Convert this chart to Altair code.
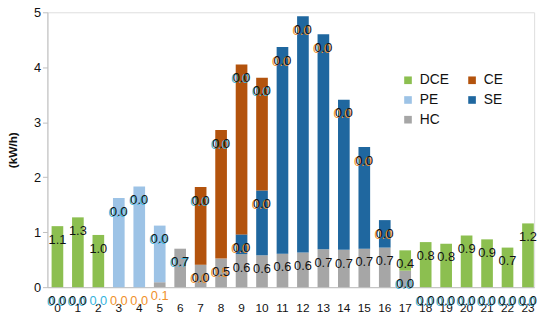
import altair as alt
import pandas as pd

# ---------------- data ----------------
hours = list(range(24))
stack_order = ["HC", "DCE", "PE", "SE", "CE"]          # bottom -> top
legend_order = ["DCE", "PE", "HC", "CE", "SE"]          # legend fills column by column
legend_colors = ["#8cbf50", "#9dc3e6", "#a6a6a6", "#b3530d", "#1f679f"]

HC  = [0, 0, 0, 0, 0, 0.09, 0.70, 0.41, 0.52, 0.60, 0.58, 0.61, 0.63, 0.69, 0.68, 0.70, 0.72, 0.30, 0, 0, 0, 0, 0, 0]
DCE = [1.11, 1.27, 0.95, 0, 0, 0, 0, 0, 0, 0, 0, 0, 0, 0, 0, 0, 0, 0.37, 0.82, 0.79, 0.94, 0.87, 0.72, 1.16]
PE  = [0, 0, 0, 1.62, 1.83, 1.03, 0, 0, 0, 0, 0, 0, 0, 0, 0, 0, 0, 0, 0, 0, 0, 0, 0, 0]
SE  = [0, 0, 0, 0, 0, 0, 0, 0, 0, 0.36, 1.18, 3.76, 4.30, 3.91, 2.73, 1.85, 0.50, 0, 0, 0, 0, 0, 0, 0]
CE  = [0, 0, 0, 0, 0, 0, 0, 1.41, 2.34, 3.09, 2.05, 0, 0, 0, 0, 0, 0, 0, 0, 0, 0, 0, 0, 0]

# data labels as shown in the chart ("" = no label); k=black, c=cyan, o=orange
HC_LBL   = ["0.0", "0.0", "0.0", "0.0", "0.0", "0.1", "0.7", "0.0", "0.5", "0.6", "0.6", "0.6",
            "0.6", "0.7", "0.7", "0.7", "0.7", "0.0", "0.0", "0.0", "0.0", "0.0", "0.0", "0.0"]
HC_COL   = ["k", "k", "c", "o", "o", "o", "k", "k", "k", "k", "k", "k",
            "k", "k", "k", "k", "k", "k", "k", "k", "k", "k", "k", "k"]
HC_HALO  = ["c", "c", "", "", "", "", "c", "o", "o", "", "", "",
            "", "", "", "", "", "c", "c", "c", "c", "c", "c", "c"]
DCE_LBL  = ["1.1", "1.3", "1.0", "", "", "", "", "", "", "", "", "",
            "", "", "", "", "", "0.4", "0.8", "0.8", "0.9", "0.9", "0.7", "1.2"]
PE_LBL   = ["", "", "", "0.0", "0.0", "0.0"] + [""] * 18
CE_LBL   = [""] * 7 + ["0.0", "0.0", "0.0", "0.0"] + [""] * 13
SE_LBL   = [""] * 9 + ["0.0"] * 8 + [""] * 7

values = {"HC": HC, "DCE": DCE, "PE": PE, "SE": SE, "CE": CE}
labels = {
    "HC": (HC_LBL, HC_COL, HC_HALO),
    "DCE": (DCE_LBL, ["k"] * 24, [""] * 24),
    "PE": (PE_LBL, ["k"] * 24, ["c"] * 24),
    "SE": (SE_LBL, ["k"] * 24, ["o"] * 24),
    "CE": (CE_LBL, ["k"] * 24, ["c"] * 24),
}
code = {"k": "#111111", "c": "#35b3e0", "o": "#f0912c", "": ""}

bar_rows, lbl_rows = [], []
for h in hours:
    cum = 0.0
    for k, s in enumerate(stack_order):
        v = values[s][h]
        cum += v
        bar_rows.append({"hour": h, "series": s, "value": v, "ord": k})
        txt, col, halo = labels[s]
        if txt[h]:
            lbl_rows.append({"hour": h, "top": cum, "text": txt[h],
                             "tcolor": code[col[h]], "halo": code[halo[h]]})

bars_df = pd.DataFrame(bar_rows)
lbl_df = pd.DataFrame(lbl_rows)

FONT = "Liberation Sans"

x_enc = alt.X("hour:O", sort=hours,
              scale=alt.Scale(paddingInner=0.43, paddingOuter=0.11, align=0.93),
              axis=alt.Axis(title=None, labelAngle=0, ticks=False, domainColor="#bfbfbf",
                            labelPadding=16, labelFontSize=12, labelColor="#111111", labelFont=FONT))
y_scale = alt.Scale(domain=[0, 5])

bars = alt.Chart(bars_df).mark_bar().encode(
    x=x_enc,
    y=alt.Y("value:Q", stack="zero", scale=y_scale,
            axis=alt.Axis(values=[0, 1, 2, 3, 4, 5], grid=False, domainColor="#bfbfbf",
                          tickColor="#bfbfbf", tickSize=5, labelPadding=2,
                          labelFontSize=13, labelColor="#111111", labelFont=FONT,
                          title="(kW/h)", titleFont=FONT, titleFontSize=12,
                          titleFontWeight="bold", titleColor="#111111", titlePadding=14)),
    color=alt.Color("series:N",
                    scale=alt.Scale(domain=legend_order, range=legend_colors),
                    legend=alt.Legend(title=None, orient="none", legendX=359, legendY=62,
                                      columns=2, symbolType="square", symbolSize=60,
                                      symbolStrokeWidth=0, labelFontSize=14, labelFont=FONT,
                                      labelColor="#111111", labelOffset=5,
                                      columnPadding=16, rowPadding=6)),
    order=alt.Order("ord:Q", sort="ascending"),
)

halo = alt.Chart(lbl_df).transform_filter("datum.halo != ''").mark_text(
    baseline="middle", align="center", dy=15, dx=-1.5, fontSize=13, font=FONT
).encode(
    x=alt.X("hour:O", sort=hours, bandPosition=0.5),
    y=alt.Y("top:Q", scale=y_scale),
    text="text:N",
    color=alt.Color("halo:N", scale=None),
)

text = alt.Chart(lbl_df).mark_text(
    baseline="middle", align="center", dy=14, fontSize=13, font=FONT
).encode(
    x=alt.X("hour:O", sort=hours, bandPosition=0.5),
    y=alt.Y("top:Q", scale=y_scale),
    text="text:N",
    color=alt.Color("tcolor:N", scale=None),
)

chart = alt.layer(bars, halo, text).resolve_scale(color="independent").properties(
    width=494, height=279,
    autosize=alt.AutoSizeParams(type="none"),
    padding={"left": 40, "top": 2, "right": 8, "bottom": 34},
).configure_view(stroke=None).configure(background="white")

chart.save("out.html", embed_options={"renderer": "svg", "actions": False})
